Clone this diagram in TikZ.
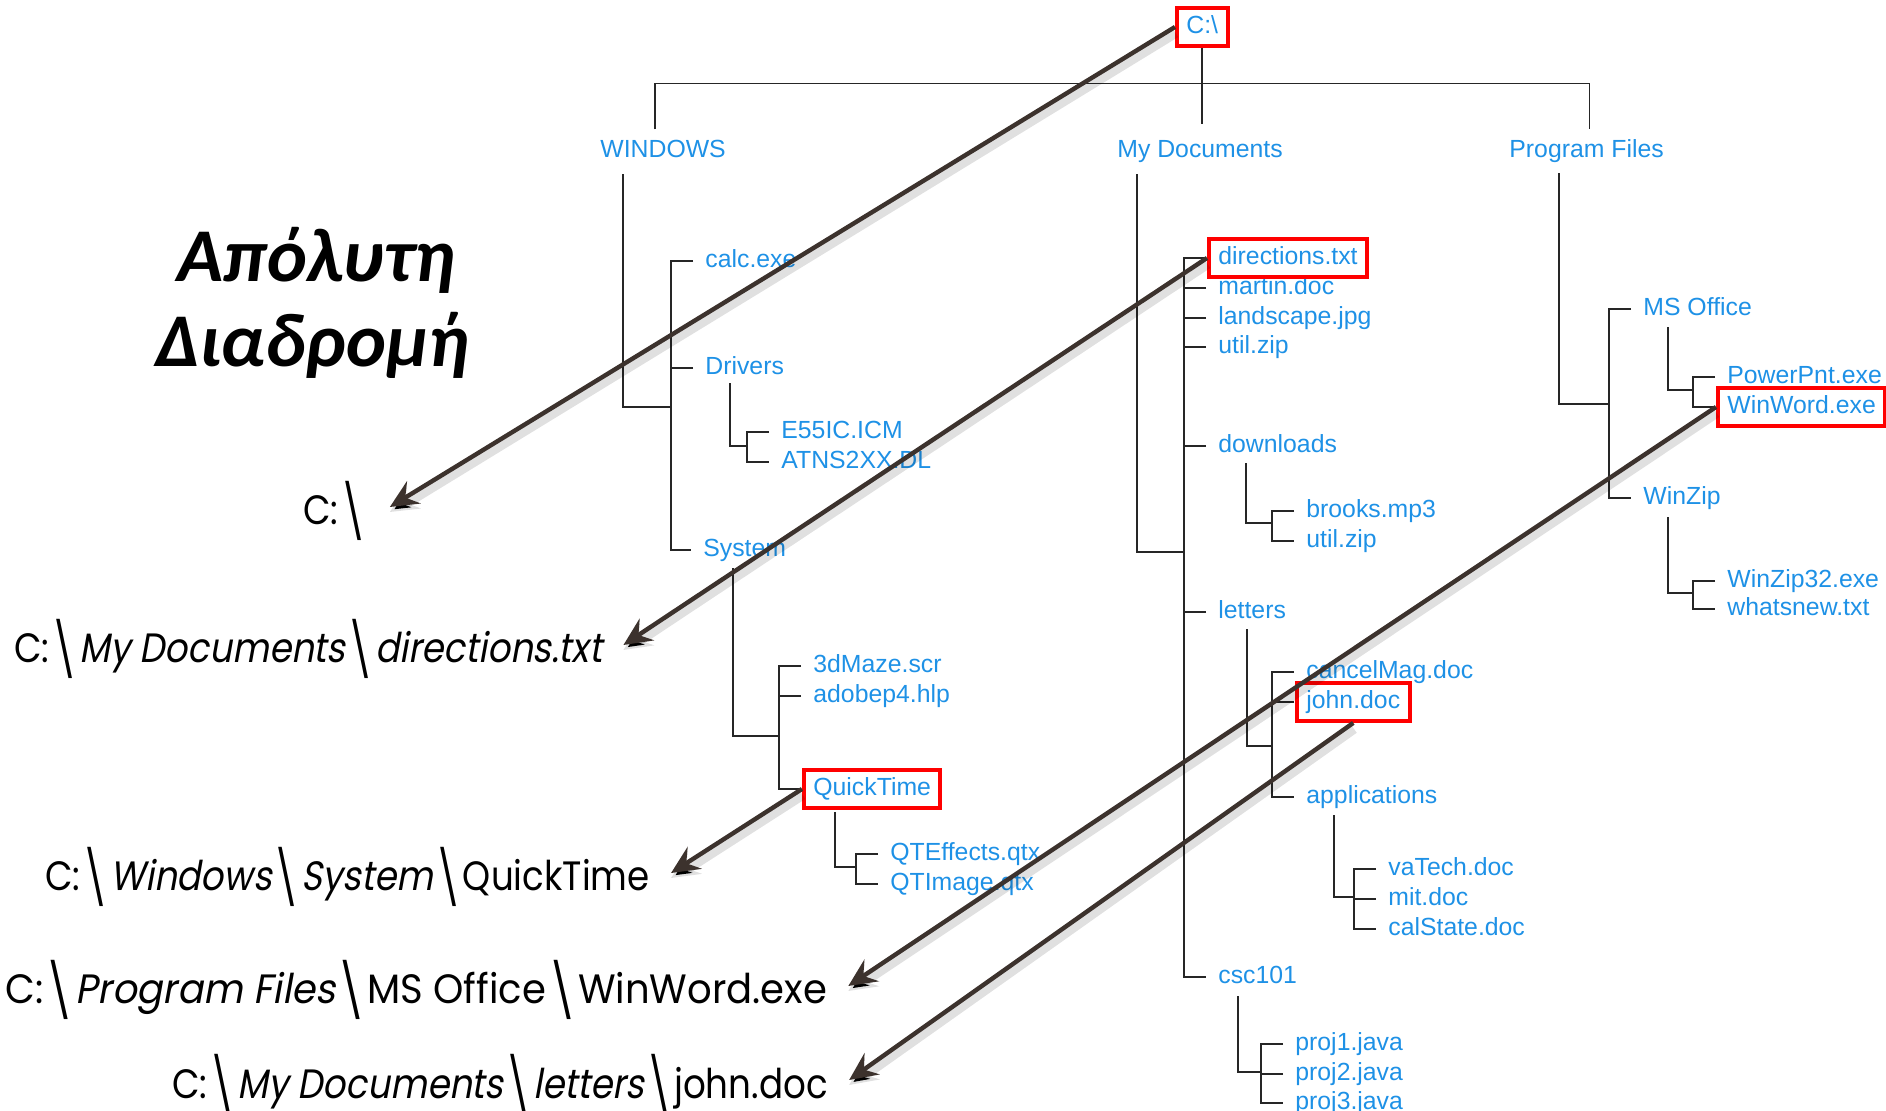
\documentclass[tikz,border=0pt]{standalone}
\usepackage{fontspec}
\setmainfont{Liberation Sans}
\newfontfamily\pathfont{Poppins}[FakeStretch=0.87, ItalicFont=Poppins, ItalicFeatures={FakeSlant=0.18}]
\newfontfamily\pathfontwide{Poppins}[FakeStretch=0.94, ItalicFont=Poppins, ItalicFeatures={FakeSlant=0.18}]
\newfontfamily\titlefont{Carlito}
\usetikzlibrary{fit, arrows.meta}

\definecolor{fileblue}{RGB}{30,145,230}
\definecolor{ptrbrown}{RGB}{60,50,45}

% long backslash of the path labels
\newcommand{\bsl}{\kern0.05em\raisebox{-0.16em}{\scalebox{1.1}[1.3]{\textbackslash}}\kern0.05em}

\tikzset{
  fileitem/.style={anchor=west, inner sep=0pt, text=fileblue, text height=9.5pt, text depth=2.6pt,
    font=\fontsize{12.4}{14}\selectfont},
  treeline/.style={draw=black!85, line width=0.8pt},
  hlbox/.style={draw=red, line width=2pt, inner xsep=4.5pt, inner ysep=3.2pt},
  pathlabel/.style={anchor=base west, inner sep=0pt, font=\pathfont\fontsize{20.5}{24}\selectfont},
  titletext/.style={anchor=base, inner sep=0pt, font=\titlefont\bfseries\itshape\fontsize{38}{44}\selectfont},
  pathptr/.style={draw=ptrbrown, line width=2.2pt, -{Stealth[length=14pt,width=13pt,inset=5pt]},
    preaction={draw=black, draw opacity=0.12, line width=6pt, transform canvas={yshift=-2.5pt}}}
}

\begin{document}
\begin{tikzpicture}[x=0.5pt, y=-0.5pt]
    \useasboundingbox (0,0) rectangle (1886,1111);

    % 1. Titel
    \node[titletext] (title1) at (316,282) {Απόλυτη};
    \node[titletext] (title2) at (312,367) {Διαδρομή};

    % 2. Fa: gyoker es elso szint
    \node[fileitem] (cdrive) at (1186,27) {C:\textbackslash};
    \node[fileitem] (windows) at (600,151) {WINDOWS};
    \node[fileitem] (mydocs) at (1117,151) {My Documents};
    \node[fileitem] (progfiles) at (1509,151) {Program Files};

    % WINDOWS alatt
    \foreach \n/\x/\y/\t in {calc/705/261/calc.exe, drivers/705/368/Drivers, system/703/550/System,
                             e55/781/432/E55IC.ICM, atns/781/462/ATNS2XX.DL,
                             maze/813/666/3dMaze.scr, adobe/813/696/adobep4.hlp, quicktime/813/789/QuickTime,
                             qteff/890/854/QTEffects.qtx, qtimg/890/884/QTImage.qtx}
        \node[fileitem] (\n) at (\x,\y) {\t};

    % My Documents alatt
    \foreach \n/\x/\y/\t in {directions/1218/258/directions.txt, martin/1218/288/martin.doc,
                             landscape/1218/318/landscape.jpg, utilzip/1218/347/util.zip,
                             downloads/1218/446/downloads, letters/1218/612/letters, csc/1218/977/csc101,
                             brooks/1306/511/brooks.mp3, utilzipb/1306/541/util.zip,
                             cancel/1306/672/cancelMag.doc, john/1306/702/john.doc, applications/1306/797/applications,
                             vatech/1388/869/vaTech.doc, mit/1388/899/mit.doc, calstate/1388/929/calState.doc,
                             proja/1295/1044/proj1.java, projb/1295/1074/proj2.java, projc/1295/1103/proj3.java}
        \node[fileitem] (\n) at (\x,\y) {\t};

    % Program Files alatt
    \foreach \n/\x/\y/\t in {msoffice/1643/309/MS Office, winzip/1643/498/WinZip,
                             powerpnt/1727/377/PowerPnt.exe, winword/1727/407/WinWord.exe,
                             winzipexe/1727/581/WinZip32.exe, whatsnew/1727/609/whatsnew.txt}
        \node[fileitem] (\n) at (\x,\y) {\t};

    % 3. Karikazas
    \node[hlbox, fit=(cdrive)] (cdrivebox) {};
    \node[hlbox, fit=(directions)] (directionsbox) {};
    \node[hlbox, fit=(quicktime)] (qtbox) {};
    \node[hlbox, fit=(winword)] (winwordbox) {};
    \node[hlbox, fit=(john)] (johnbox) {};

    % 4. Vonalak
    \draw[treeline] (cdrivebox.south) -- ++(0,76);
    \draw[treeline] ([xshift=-4pt,yshift=4.5pt]windows.north) -- ++(0,-46) -| ([xshift=1.5pt,yshift=4.5pt]progfiles.north);

    % zarojelek: elso es utolso gyerek
    \foreach \a/\b in {calc/system, e55/atns, maze/quicktime, qteff/qtimg, directions/csc, brooks/utilzipb,
                       cancel/applications, vatech/calstate, proja/projc, msoffice/winzip,
                       powerpnt/winword, winzipexe/whatsnew} {
        \coordinate (\a-br) at ([xshift=-17pt]\a.west);
        \draw[treeline] ([xshift=-6pt]\a.west) -- (\a-br) |- ([xshift=-6pt]\b.west);
    }
    \foreach \c in {drivers, adobe, martin, landscape, utilzip, downloads, letters, john, mit, projb}
        \draw[treeline] ([xshift=-6pt]\c.west) -- ([xshift=-17pt]\c.west);

    % szulo -> zarojel
    \foreach \p/\dx/\dy/\k/\jy in {windows/23/11/calc/407, mydocs/20/11/directions/552,
                                  progfiles/50/10/msoffice/404, drivers/25/3/e55/446,
                                  system/30/6/maze/736, downloads/28/5/brooks/523,
                                  letters/29/5/cancel/746, applications/28/6/vatech/897,
                                  csc/20/7/proja/1072, msoffice/25/6/powerpnt/390,
                                  winzip/25/7/winzipexe/593}
        \draw[treeline] (\p.south west) ++(\dx,\dy) |- (\k-br |- 0,\jy);
    \draw[treeline] (qtbox.south west) ++(33,2) |- (qteff-br |- 0,867);

    % 5. Utvonalak
    \node[pathlabel] (pc) at (303,525) {C:\bsl};
    \node[pathlabel] (pdir) at (14,663) {C:\bsl\textit{My Documents}\bsl\textit{directions.txt}};
    \node[pathlabel] (pqt) at (45,891) {C:\bsl\textit{Windows}\bsl\textit{System}\bsl QuickTime};
    \node[pathlabel, font=\pathfontwide\fontsize{20.5}{24}\selectfont] (pww) at (5,1004)
        {C:\bsl\textit{Program Files}\bsl MS Office\bsl WinWord.exe};
    \node[pathlabel] (pjohn) at (172,1098) {C:\bsl\textit{My Documents}\bsl\textit{letters}\bsl john.doc};

    \draw[pathptr] (cdrivebox.west) -- ([xshift=10.5pt,yshift=9pt]pc.base east);
    \draw[pathptr] (directionsbox.west) -- ([xshift=10.5pt,yshift=9pt]pdir.base east);
    \draw[pathptr] (qtbox.west) -- ([xshift=10.5pt,yshift=9pt]pqt.base east);
    \draw[pathptr] (winwordbox.west) -- ([xshift=10.5pt,yshift=9pt]pww.base east);
    \draw[pathptr] (johnbox.south) -- ([xshift=10.5pt,yshift=9pt]pjohn.base east);
\end{tikzpicture}
\end{document}
